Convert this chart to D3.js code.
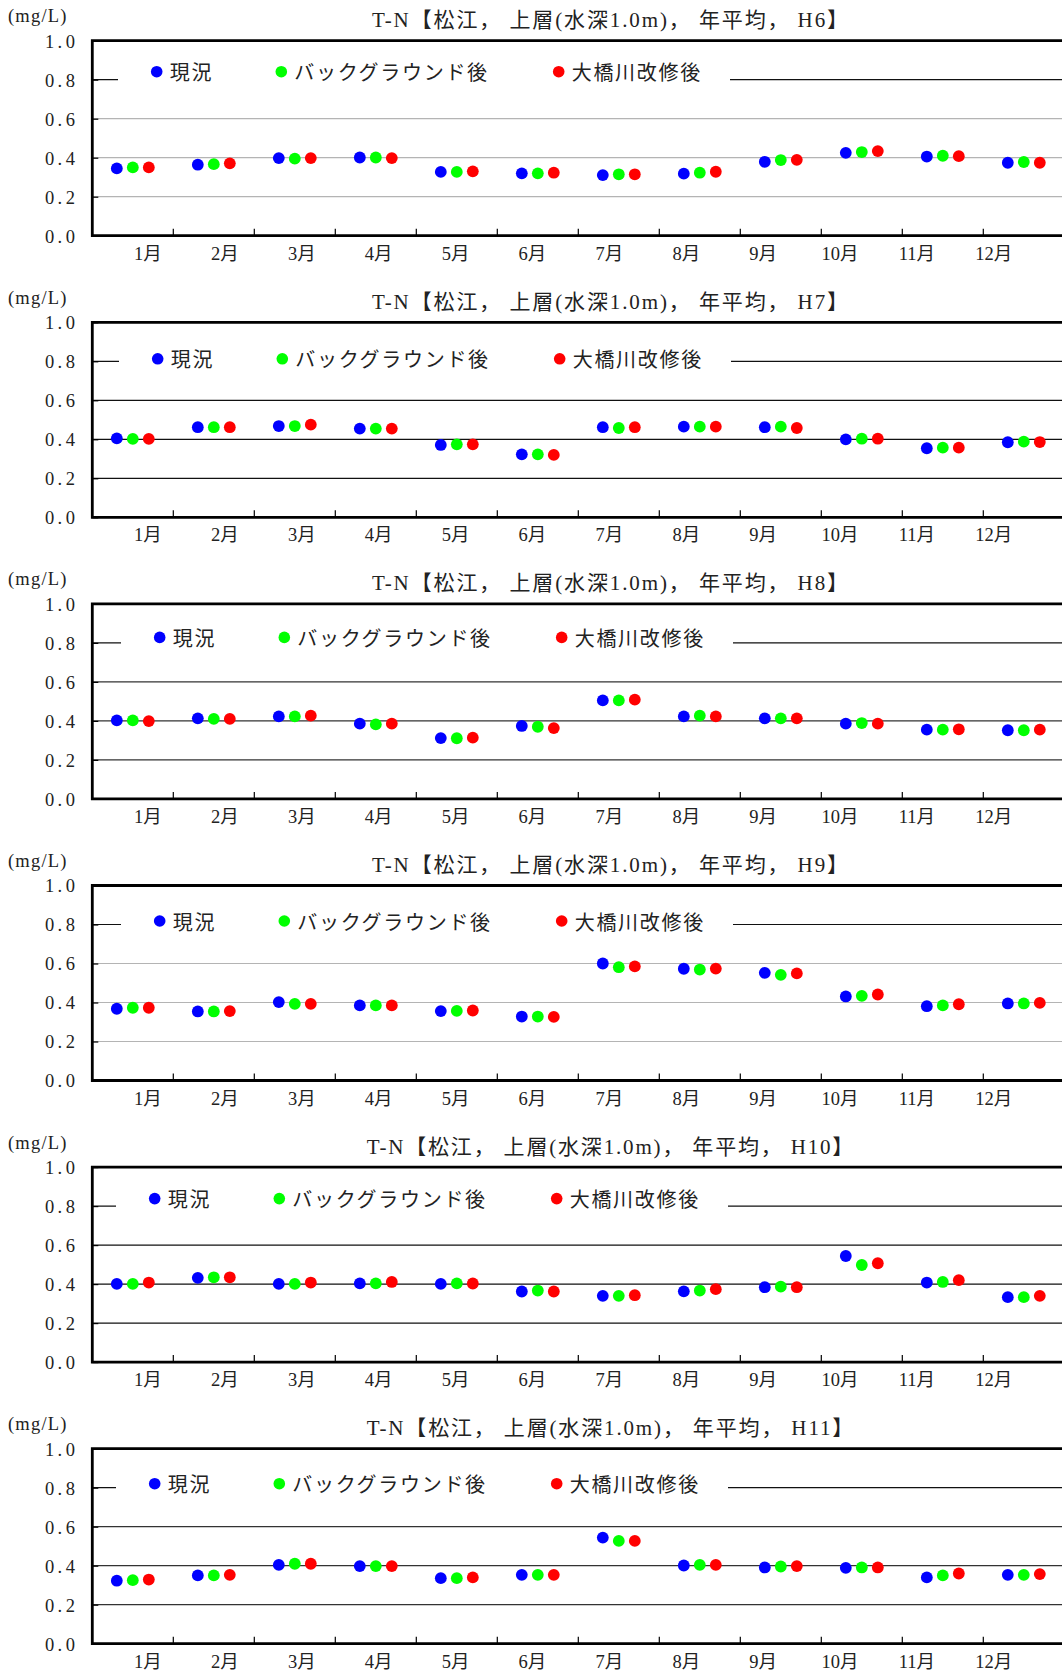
<!DOCTYPE html>
<html>
<head>
<meta charset="utf-8">
<script src="https://cdn.jsdelivr.net/npm/d3@7"></script>
<style>
  html, body { margin: 0; padding: 0; background: #fff; }
  svg { display: block; }
</style>
</head>
<body>
<svg id="chart" width="1062" height="1675"></svg>
<script>
// ---------------- data ----------------
const months = ["1月","2月","3月","4月","5月","6月","7月","8月","9月","10月","11月","12月"];
const seriesNames = ["現況","バックグラウンド後","大橋川改修後"];
const seriesColors = ["#0000ff","#00ff00","#ff0000"];
const years = ["H6","H7","H8","H9","H10","H11"];
const yTickValues = [0, 0.2, 0.4, 0.6, 0.8, 1.0];
const yUnit = "(mg/L)";

const H6_genkyo = [0.345,0.364,0.398,0.401,0.327,0.320,0.311,0.318,0.379,0.425,0.406,0.374];
const H6_bg     = [0.350,0.367,0.395,0.401,0.327,0.320,0.315,0.323,0.388,0.429,0.410,0.378];
const H6_ohashi = [0.350,0.371,0.398,0.398,0.330,0.323,0.315,0.328,0.389,0.434,0.408,0.374];

const H7_genkyo = [0.405,0.462,0.468,0.455,0.371,0.323,0.462,0.465,0.462,0.400,0.354,0.385];
const H7_bg     = [0.402,0.462,0.468,0.455,0.374,0.323,0.458,0.465,0.465,0.403,0.357,0.388];
const H7_ohashi = [0.402,0.462,0.475,0.455,0.374,0.320,0.462,0.465,0.458,0.403,0.357,0.386];

const H8_genkyo = [0.403,0.413,0.423,0.386,0.312,0.374,0.505,0.423,0.413,0.386,0.355,0.352];
const H8_bg     = [0.403,0.410,0.423,0.382,0.311,0.370,0.505,0.427,0.413,0.389,0.355,0.352];
const H8_ohashi = [0.399,0.410,0.427,0.386,0.314,0.363,0.509,0.423,0.413,0.386,0.357,0.355];

const H9_genkyo = [0.368,0.354,0.402,0.385,0.356,0.328,0.600,0.573,0.552,0.431,0.381,0.395];
const H9_bg     = [0.373,0.354,0.393,0.385,0.357,0.328,0.581,0.569,0.542,0.434,0.385,0.395];
const H9_ohashi = [0.373,0.356,0.393,0.385,0.359,0.326,0.585,0.574,0.549,0.441,0.391,0.398];

const H10_genkyo = [0.401,0.432,0.401,0.404,0.401,0.362,0.340,0.363,0.384,0.544,0.408,0.333];
const H10_bg     = [0.401,0.435,0.401,0.404,0.404,0.367,0.340,0.367,0.387,0.498,0.411,0.333];
const H10_ohashi = [0.408,0.435,0.408,0.411,0.403,0.362,0.343,0.374,0.384,0.507,0.420,0.340];

const H11_genkyo = [0.323,0.350,0.404,0.398,0.336,0.353,0.544,0.401,0.391,0.389,0.340,0.353];
const H11_bg     = [0.326,0.350,0.410,0.398,0.336,0.353,0.527,0.404,0.396,0.391,0.350,0.353];
const H11_ohashi = [0.329,0.353,0.410,0.398,0.340,0.353,0.527,0.404,0.398,0.391,0.360,0.357];

const panelSeries = [
  [H6_genkyo, H6_bg, H6_ohashi],
  [H7_genkyo, H7_bg, H7_ohashi],
  [H8_genkyo, H8_bg, H8_ohashi],
  [H9_genkyo, H9_bg, H9_ohashi],
  [H10_genkyo, H10_bg, H10_ohashi],
  [H11_genkyo, H11_bg, H11_ohashi]
];

// ---------------- layout ----------------
const W = 1062;
const plotLeft = 92.3, bandW = 81, plotH = 195;
const panelTop0 = 40.7, pitch = 281.6;
const gridColors = ["#b4b4b4","#111","#333","#b4b4b4","#111","#333"];
const legendDx = [0, 1, 3, 3, -2, -2];
const legendDy = [31, 36.5, 33.5, 35.5, 31.5, 35];
const serifFont = "'Liberation Serif', 'Noto Sans CJK JP', serif";
const cjkFont = "'Noto Sans CJK JP', sans-serif";

const svg = d3.select("#chart");

const x = d3.scaleBand().domain(months).range([plotLeft, plotLeft + 12 * bandW]);
const xSeries = d3.scalePoint().domain(seriesNames).range([-16, 16]);
const xLabel = d3.scaleBand().domain(months).range([109.5, 1032.3]);

years.forEach((yr, p) => {
  const top = panelTop0 + p * pitch;
  const bottom = top + plotH;
  const y = d3.scaleLinear().domain([0, 1]).range([bottom, top]);
  const g = svg.append("g");

  // gridlines
  g.selectAll("line.grid")
    .data(yTickValues.filter(v => v > 0 && v < 1))
    .join("line")
    .attr("x1", plotLeft).attr("x2", W)
    .attr("y1", d => y(d)).attr("y2", d => y(d))
    .attr("stroke", d => d === 0.8 ? "#111" : gridColors[p])
    .attr("stroke-width", 1.2);

  // legend box (white) covering part of the 0.8 line
  const lx = legendDx[p], ly = top + legendDy[p];
  g.append("rect")
    .attr("x", 118 + lx).attr("y", ly - 18)
    .attr("width", 612).attr("height", 36)
    .attr("fill", "#fff");
  const legendPos = [156.7, 281.3, 558.7];
  seriesNames.forEach((s, i) => {
    g.append("circle")
      .attr("cx", legendPos[i] + lx).attr("cy", ly)
      .attr("r", 5.8).attr("fill", seriesColors[i]);
    g.append("text")
      .attr("x", legendPos[i] + lx + 13).attr("y", ly)
      .attr("dominant-baseline", "central")
      .attr("font-family", cjkFont)
      .attr("font-size", 20)
      .attr("letter-spacing", 1.7)
      .attr("fill", "#222")
      .text(s);
  });

  // y axis (inward ticks + labels)
  const yAxis = d3.axisLeft(y)
    .tickValues(yTickValues)
    .tickSize(-6)
    .tickPadding(14)
    .tickFormat(d3.format(".1f"));
  const ya = g.append("g").attr("transform", `translate(${plotLeft},0)`).call(yAxis);
  ya.select(".domain").remove();
  ya.selectAll(".tick line").attr("stroke", "#000").attr("stroke-width", 1.2);
  ya.selectAll(".tick text")
    .attr("font-family", serifFont)
    .attr("font-size", 18.5)
    .attr("letter-spacing", 3.4)
    .attr("fill", "#222")
    .attr("dy", "0.35em");

  // x category boundary ticks (inward)
  g.selectAll("line.xtick")
    .data(months.slice(1))
    .join("line")
    .attr("x1", d => x(d)).attr("x2", d => x(d))
    .attr("y1", bottom).attr("y2", bottom - 7)
    .attr("stroke", "#000").attr("stroke-width", 1.2);

  // x labels
  const xAxis = d3.axisBottom(xLabel).tickSize(0).tickPadding(11);
  const xa = g.append("g").attr("transform", `translate(0,${bottom})`).call(xAxis);
  xa.select(".domain").remove();
  xa.selectAll(".tick text")
    .attr("font-family", serifFont)
    .attr("font-size", 18.5)
    .attr("fill", "#222");

  // frame
  g.append("path")
    .attr("d", `M${W},${top}H${plotLeft}V${bottom}H${W}`)
    .attr("fill", "none")
    .attr("stroke", "#000")
    .attr("stroke-width", 2.8);

  // dots
  panelSeries[p].forEach((vals, si) => {
    g.selectAll(null)
      .data(vals)
      .join("circle")
      .attr("cx", (d, i) => x(months[i]) + x.bandwidth() / 2 + xSeries(seriesNames[si]))
      .attr("cy", d => y(d))
      .attr("r", 5.9)
      .attr("fill", seriesColors[si]);
  });

  // title (stretched to the reference width)
  const title = g.append("text")
    .attr("x", 606).attr("y", top - 20.5)
    .attr("text-anchor", "middle")
    .attr("dominant-baseline", "central")
    .attr("font-family", serifFont)
    .attr("font-size", 21)
    .attr("fill", "#222")
    .text(`T-N【松江， 上層(水深1.0m)， 年平均， ${yr}】`);
  const natural = title.node().getComputedTextLength();
  const target = 478 + 10.5 * (yr.length - 2);
  const nChars = title.text().length;
  const ls = (target - natural) / nChars;
  title.attr("letter-spacing", ls).attr("x", 610 + ls / 2);

  // unit
  g.append("text")
    .attr("x", 8).attr("y", top - 24.5)
    .attr("dominant-baseline", "central")
    .attr("font-family", serifFont)
    .attr("font-size", 18.5)
    .attr("letter-spacing", 1.2)
    .attr("fill", "#222")
    .text(yUnit);
});
</script>
</body>
</html>
